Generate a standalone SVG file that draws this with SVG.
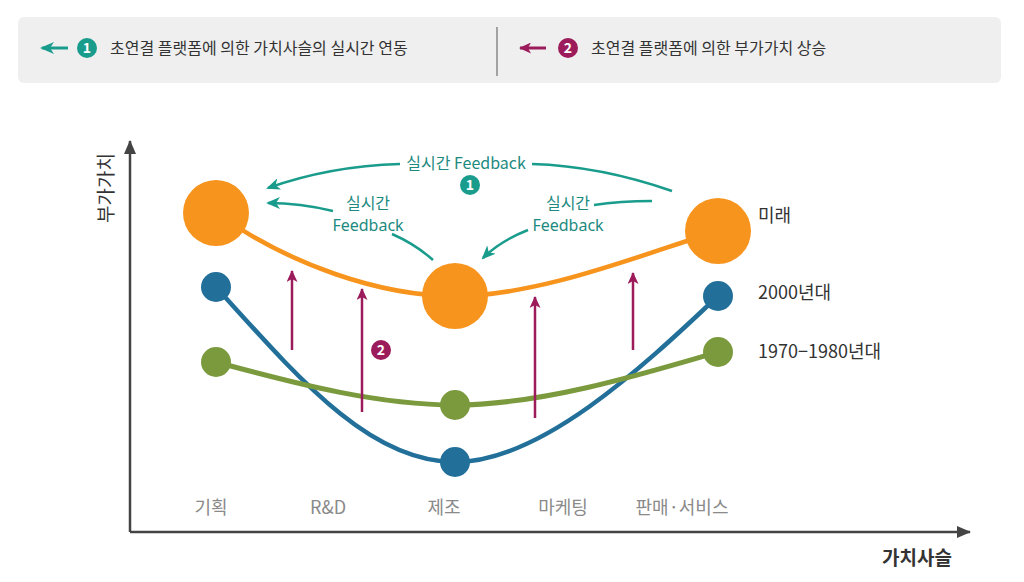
<svg xmlns="http://www.w3.org/2000/svg" width="1024" height="582" viewBox="0 0 1024 582">
<style>
.t{font-family:"Noto Sans CJK KR","Noto Sans",sans-serif;}
.lat{font-family:"Noto Sans",sans-serif;}
.leg{font-size:16px;fill:#333;}
.tl{font-size:16px;fill:#1d8a80;}
.rl{font-size:18px;fill:#333;}
.bl{font-size:18px;fill:#8a8a8a;text-anchor:middle;}
.badge{font-size:14px;font-weight:bold;fill:#fff;text-anchor:middle;}
.teal{fill:none;stroke:#1a9c8c;stroke-width:2.5;}
.crim{fill:none;stroke:#9c1b5b;stroke-width:2.5;}
.axis{fill:none;stroke:#444;stroke-width:2.5;}
</style>
<defs>
<marker id="ta" viewBox="0 0 14 12" refX="12" refY="6" markerWidth="14" markerHeight="12" markerUnits="userSpaceOnUse" orient="auto">
<path d="M0,0 L14,6 L0,12 L4,6 z" fill="#1a9c8c"/>
</marker>
<marker id="ca" viewBox="0 0 12 11" refX="11" refY="5.5" markerWidth="12" markerHeight="11" markerUnits="userSpaceOnUse" orient="auto">
<path d="M0,0 L12,5.5 L0,11 L3,5.5 z" fill="#9c1b5b"/>
</marker>
<marker id="aa" viewBox="0 0 14 12" refX="13" refY="6" markerWidth="14" markerHeight="12" markerUnits="userSpaceOnUse" orient="auto">
<path d="M0,0 L14,6 L0,12 z" fill="#444"/>
</marker>
</defs>

<g id="legend">
<rect x="18" y="17" width="983" height="66" rx="6" fill="#efefef"/>
<line x1="497" y1="27" x2="497" y2="76" stroke="#888" stroke-width="1.5"/>
<line x1="68" y1="48" x2="42" y2="48" stroke="#1a9c8c" stroke-width="3" marker-end="url(#ta)"/>
<circle cx="87" cy="48" r="10" fill="#1a9c8c"/>
<text class="t badge" x="87" y="53">1</text>
<text class="t leg" x="110" y="54">초연결 플랫폼에 의한 가치사슬의 실시간 연동</text>
<line x1="546" y1="48" x2="520" y2="48" stroke="#9c1b5b" stroke-width="3" marker-end="url(#ca)"/>
<circle cx="568" cy="48" r="10" fill="#9c1b5b"/>
<text class="t badge" x="568" y="53">2</text>
<text class="t leg" x="591" y="54">초연결 플랫폼에 의한 부가가치 상승</text>
</g>

<g id="axes">
<line class="axis" x1="130" y1="532" x2="130" y2="141" marker-end="url(#aa)"/>
<line class="axis" x1="130" y1="532" x2="970" y2="532" marker-end="url(#aa)"/>
<text class="t" x="104" y="188" font-size="19" fill="#333" text-anchor="middle" transform="rotate(-90 104 188)" dominant-baseline="central">부가가치</text>
<text class="t" x="917" y="565" font-size="19" font-weight="bold" fill="#333" text-anchor="middle">가치사슬</text>
</g>

<g id="connectors">
<path d="M216,287 C300,380 370,462 455,462 C540,462 640,370 718,296" fill="none" stroke="#22709a" stroke-width="4.5"/>
<path d="M216,362 C300,385 380,405 455,405 C540,405 640,375 718,352" fill="none" stroke="#7b9a3e" stroke-width="5"/>
<path d="M216,213 C290,265 380,296 455,296 C540,296 640,255 718,231" fill="none" stroke="#f7941d" stroke-width="4.5"/>
<line class="crim" x1="292" y1="350" x2="292" y2="271" marker-end="url(#ca)"/>
<line class="crim" x1="362" y1="412" x2="362" y2="289" marker-end="url(#ca)"/>
<line class="crim" x1="535" y1="418" x2="535" y2="297" marker-end="url(#ca)"/>
<line class="crim" x1="633" y1="350" x2="633" y2="273" marker-end="url(#ca)"/>
<path class="teal" d="M400,164 Q330,166 268,188" marker-end="url(#ta)"/>
<path class="teal" d="M532,164 Q600,166 672,191"/>
<path class="teal" d="M333,211 Q300,203 268,203" marker-end="url(#ta)"/>
<path class="teal" d="M392,234 Q415,244 433,260"/>
<path class="teal" d="M594,205 Q620,201 652,201"/>
<path class="teal" d="M528,230 Q500,241 483,258" marker-end="url(#ta)"/>
</g>

<g id="labels-feedback">
<text class="t tl" x="466" y="169" text-anchor="middle">실시간 Feedback</text>
<circle cx="470" cy="185" r="10" fill="#1a9c8c"/>
<text class="t badge" x="470" y="190">1</text>
<text class="t tl" x="368" y="209" text-anchor="middle">실시간</text>
<text class="lat tl" x="368" y="231" text-anchor="middle">Feedback</text>
<text class="t tl" x="568" y="209" text-anchor="middle">실시간</text>
<text class="lat tl" x="568" y="231" text-anchor="middle">Feedback</text>
<circle cx="381" cy="350" r="10" fill="#9c1b5b"/>
<text class="t badge" x="381" y="355">2</text>
</g>

<g id="node-future">
<circle cx="216" cy="213" r="33" fill="#f7941d"/>
<circle cx="455" cy="296" r="33" fill="#f7941d"/>
<circle cx="718" cy="231" r="33" fill="#f7941d"/>
<text class="t rl" x="758" y="222">미래</text>
</g>
<g id="node-2000">
<circle cx="216" cy="287" r="15" fill="#22709a"/>
<circle cx="455" cy="462" r="15" fill="#22709a"/>
<circle cx="718" cy="296" r="15" fill="#22709a"/>
<text class="t rl" x="758" y="299">2000년대</text>
</g>
<g id="node-1970">
<circle cx="216" cy="362" r="15" fill="#7b9a3e"/>
<circle cx="455" cy="405" r="15" fill="#7b9a3e"/>
<circle cx="718" cy="352" r="15" fill="#7b9a3e"/>
<text class="t rl" x="758" y="358">1970−1980년대</text>
</g>

<g id="chain-labels">
<text class="t bl" x="211" y="514">기획</text>
<text class="t bl" x="328" y="514">R&amp;D</text>
<text class="t bl" x="444" y="514">제조</text>
<text class="t bl" x="563" y="514">마케팅</text>
<text class="t bl" x="682" y="514">판매·서비스</text>
</g>
</svg>
